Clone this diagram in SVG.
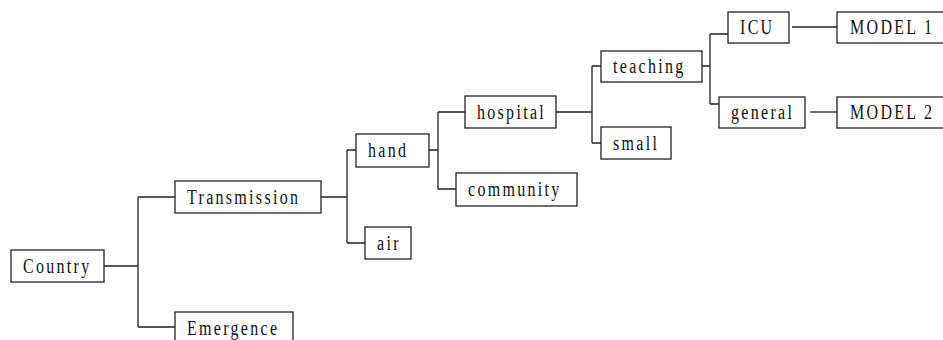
<svg xmlns="http://www.w3.org/2000/svg" width="943" height="340" viewBox="0 0 943 340">
<style>
rect{fill:#fff;stroke:#222;stroke-width:1.3}
text{font-family:"Liberation Serif","Times New Roman",serif;font-size:16px;letter-spacing:2.3px;fill:#111}
#connectors path{fill:none;stroke:#222;stroke-width:1.3}
</style>
<rect x="0" y="0" width="943" height="340" style="fill:#fff;stroke:none"/>
<g id="connectors">
<path d="M104,266H138M138,197V327M138,197H175M138,327H175"/>
<path d="M321,197H347M347,150V243M347,150H356M347,243H365"/>
<path d="M429,150H438M438,112V189M438,112H465M438,189H456"/>
<path d="M556,112H592M592,66V143M592,66H601M592,143H601"/>
<path d="M702,66H710M710,34V104M710,34H728M710,104H719"/>
<path d="M792,27H837"/>
<path d="M810,112H837"/>
</g>
<g id="country"><rect x="11" y="250" width="93" height="32"/><text transform="translate(23 272.5) scale(1 1.25)">Country</text></g>
<g id="transmission"><rect x="175" y="181" width="146" height="32"/><text transform="translate(187 203.5) scale(1 1.25)">Transmission</text></g>
<g id="emergence"><rect x="175" y="312" width="118" height="32"/><text transform="translate(187 334.5) scale(1 1.25)">Emergence</text></g>
<g id="hand"><rect x="356" y="134" width="73" height="33"/><text transform="translate(368 157) scale(1 1.25)">hand</text></g>
<g id="air"><rect x="365" y="227" width="46" height="32"/><text transform="translate(377 249.5) scale(1 1.25)">air</text></g>
<g id="hospital"><rect x="465" y="96" width="91" height="32"/><text transform="translate(477 118.5) scale(1 1.25)">hospital</text></g>
<g id="community"><rect x="456" y="173" width="121" height="33"/><text transform="translate(468 196) scale(1 1.25)">community</text></g>
<g id="teaching"><rect x="601" y="51" width="101" height="31"/><text transform="translate(613 73) scale(1 1.25)">teaching</text></g>
<g id="small"><rect x="601" y="127" width="70" height="32"/><text transform="translate(613 149.5) scale(1 1.25)">small</text></g>
<g id="icu"><rect x="728" y="12" width="61" height="31"/><text transform="translate(740 34) scale(1 1.25)">ICU</text></g>
<g id="general"><rect x="719" y="97" width="86" height="31"/><text transform="translate(731 119) scale(1 1.25)">general</text></g>
<g id="model1"><rect x="837" y="12" width="120" height="31"/><text transform="translate(850 34) scale(1 1.25)">MODEL 1</text></g>
<g id="model2"><rect x="837" y="97" width="120" height="31"/><text transform="translate(850 119) scale(1 1.25)">MODEL 2</text></g>
</svg>
